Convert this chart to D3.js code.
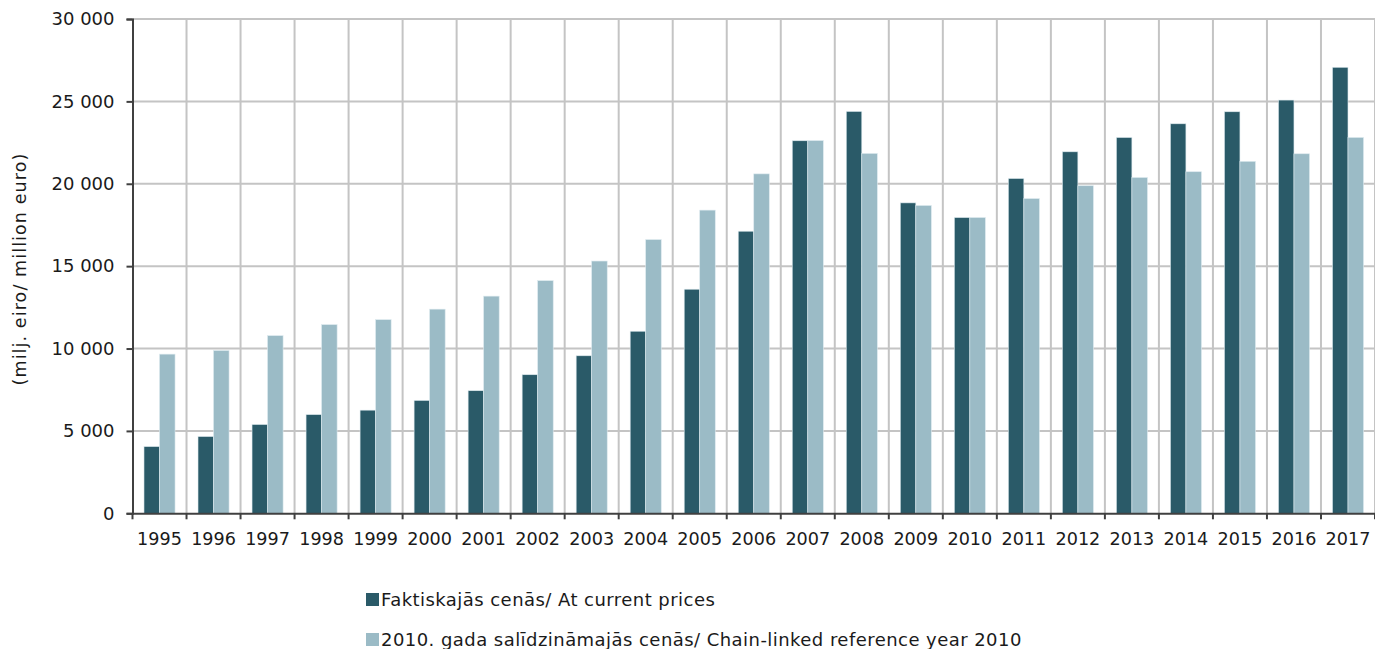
<!DOCTYPE html>
<html><head><meta charset="utf-8">
<script src="https://cdn.jsdelivr.net/npm/d3@7"></script>
<style>body{margin:0;background:#fff}svg{display:block}text{font-family:"DejaVu Sans",Verdana,sans-serif;fill:#1a1a1a}</style>
</head><body><svg id="c" width="1375" height="649"></svg>
<script>
const years = ["1995","1996","1997","1998","1999","2000","2001","2002","2003","2004","2005","2006","2007","2008","2009","2010","2011","2012","2013","2014","2015","2016","2017"];
const currentPrices = [4050,4660,5390,5990,6260,6850,7440,8410,9560,11050,13600,17120,22610,24390,18840,17950,20320,21940,22810,23640,24370,25080,27070];
const chainLinked = [9660,9880,10780,11450,11750,12390,13180,14120,15310,16610,18400,20600,22620,21840,18680,17950,19100,19880,20380,20730,21360,21820,22810];
const yTicks = [0,5000,10000,15000,20000,25000,30000];
const seriesNames = ["Faktiskajās cenās/ At current prices","2010. gada salīdzināmajās cenās/ Chain-linked reference year 2010"];
const colors = ["#2a5a68","#9bbbc6"];

const svg = d3.select("#c");
const m = {l:132.5, r:1375, t:19, b:513.3};
const x = d3.scaleBand().domain(years).range([m.l, m.r]).paddingInner(0).paddingOuter(0);
const y = d3.scaleLinear().domain([0,30000]).range([m.b, m.t]);
const inner = d3.scaleBand().domain([0,1]).range([0, x.bandwidth()]).paddingInner(0).paddingOuter(0.74);
const fmt = v => d3.format(",")(v).replace(/,/g, "\u00a0");
const FF = "'DejaVu Sans',Verdana,sans-serif";

// gridlines
svg.append("g").selectAll("line.h").data(yTicks.slice(1)).join("line")
  .attr("x1", m.l).attr("x2", m.r).attr("y1", d=>y(d)).attr("y2", d=>y(d))
  .attr("stroke","#c4c4c4").attr("stroke-width",2);
svg.append("g").selectAll("line.v").data(years.slice(1).concat(["end"])).join("line")
  .attr("x1",(d,i)=>m.l + (i+1)*x.step()).attr("x2",(d,i)=>m.l + (i+1)*x.step())
  .attr("y1", m.t).attr("y2", m.b).attr("stroke","#c4c4c4").attr("stroke-width",2);

// bars
const groups = svg.append("g").selectAll("g").data(years).join("g")
  .attr("transform", d=>`translate(${x(d)},0)`);
[currentPrices, chainLinked].forEach((arr, s) => {
  groups.append("rect")
    .attr("x", inner(s)).attr("width", inner.bandwidth())
    .attr("y", (d,i)=>y(arr[i])).attr("height", (d,i)=>y(0)-y(arr[i]))
    .attr("fill", colors[s]).attr("stroke","#dce9ee").attr("stroke-width",0.6);
});

// y axis
const ya = svg.append("g").attr("transform",`translate(${m.l},0)`)
  .call(d3.axisLeft(y).tickValues(yTicks).tickFormat(fmt).tickSize(6).tickPadding(12));
ya.select(".domain").attr("stroke","#404040").attr("stroke-width",2);
ya.selectAll(".tick line").attr("stroke","#404040").attr("stroke-width",2);
ya.selectAll("text").attr("font-size",18).style("font-family",FF).attr("fill","#1a1a1a");

// x axis
const xa = svg.append("g").attr("transform",`translate(0,${m.b})`)
  .call(d3.axisBottom(x).tickSize(0).tickPadding(19));
xa.select(".domain").attr("stroke","#404040").attr("stroke-width",2);
xa.selectAll("text").attr("font-size",17.6).style("font-family",FF).attr("fill","#1a1a1a");
xa.append("g").selectAll("line").data(d3.range(years.length+1)).join("line")
  .attr("x1", i=>m.l+i*x.step()).attr("x2", i=>m.l+i*x.step()).attr("y1",0).attr("y2",6)
  .attr("stroke","#404040").attr("stroke-width",2);

// y label
svg.append("text").attr("transform",`translate(26,${269}) rotate(-90)`)
  .attr("text-anchor","middle").attr("font-size",17.5).attr("letter-spacing",1.1).text("(milj. eiro/ million euro)");

// legend
const lg = svg.append("g").selectAll("g").data(seriesNames).join("g")
  .attr("transform",(d,i)=>`translate(366,${600+i*40})`);
lg.append("rect").attr("x",0).attr("y",-7).attr("width",13).attr("height",13).attr("fill",(d,i)=>colors[i]);
lg.append("text").attr("x",15).attr("y",0).attr("dy","0.36em").attr("font-size",18).attr("letter-spacing",0.45).text(d=>d);
</script></body></html>
